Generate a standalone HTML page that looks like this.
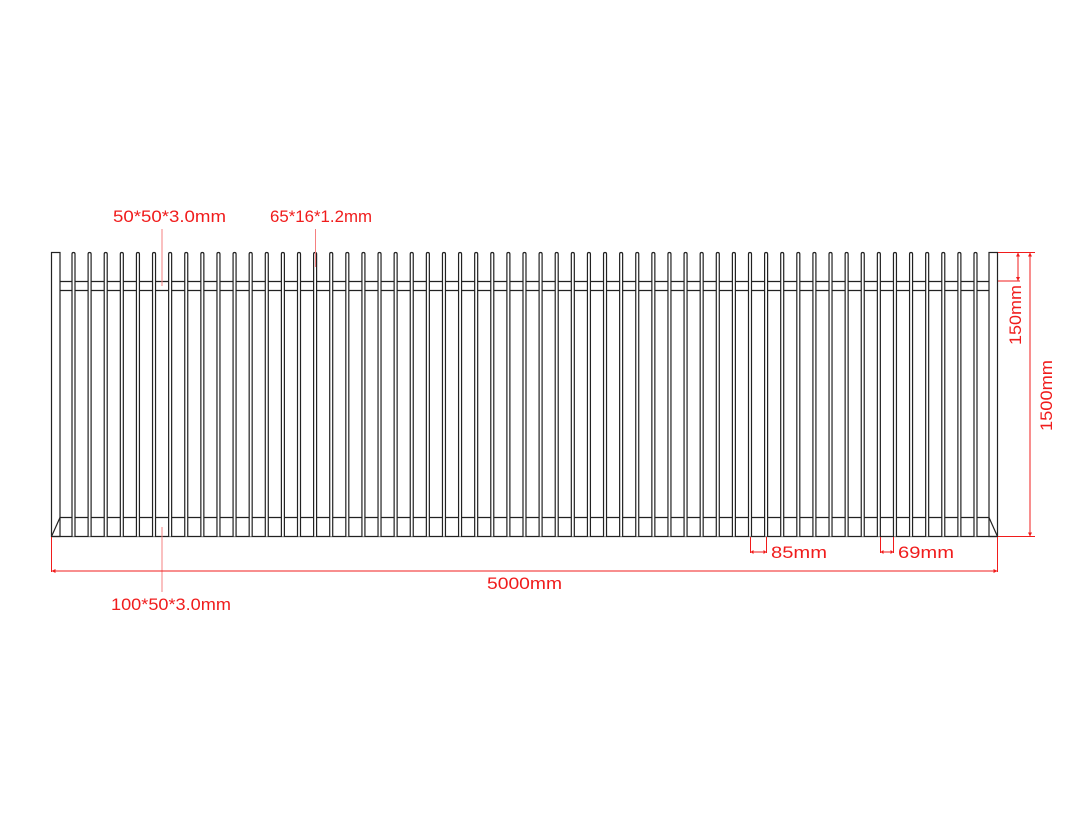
<!DOCTYPE html>
<html><head><meta charset="utf-8"><style>
html,body{margin:0;padding:0;background:#fff;}
svg{display:block;}
text{font-family:"Liberation Sans",sans-serif;font-size:17px;fill:#f01c1c;}
</style></head><body>
<svg id="s" width="1080" height="831" viewBox="0 0 1080 831" xmlns="http://www.w3.org/2000/svg">
<g id="fence" fill="none" stroke="#222" stroke-width="1.2">
<rect x="51.5" y="252.5" width="8.5" height="284" />
<rect x="989" y="252.5" width="8.5" height="284" />
<line x1="60" y1="281.5" x2="989" y2="281.5"/>
<line x1="60" y1="290.5" x2="989" y2="290.5"/>
<line x1="60" y1="517.5" x2="989" y2="517.5"/>
<line x1="51.5" y1="536.5" x2="997.5" y2="536.5"/>
<line x1="60" y1="517.5" x2="51.5" y2="536.5"/>
<line x1="989" y1="517.5" x2="997.5" y2="536.5"/>
</g>
<g fill="none" stroke="#f01c1c" stroke-width="1">
<line x1="162" y1="229" x2="162" y2="286" stroke="#f58080"/>
<line x1="315.5" y1="229" x2="315.5" y2="267" stroke="#f58080"/>
<line x1="162" y1="527" x2="162" y2="592" stroke="#f58080"/>
<line x1="51.5" y1="537" x2="51.5" y2="572"/>
<line x1="997.5" y1="537" x2="997.5" y2="572"/>
<line x1="51.5" y1="571" x2="997.5" y2="571"/>
<line x1="998" y1="252.5" x2="1035" y2="252.5"/>
<line x1="998" y1="536.5" x2="1035" y2="536.5"/>
<line x1="1030" y1="252.5" x2="1030" y2="536.5"/>
<line x1="998" y1="281" x2="1020" y2="281"/>
<line x1="1018" y1="252.5" x2="1018" y2="281"/>
<line x1="750.5" y1="537" x2="750.5" y2="553"/>
<line x1="766.5" y1="537" x2="766.5" y2="553"/>
<line x1="750.5" y1="552" x2="766.5" y2="552"/>
<line x1="880.5" y1="537" x2="880.5" y2="553"/>
<line x1="893.5" y1="537" x2="893.5" y2="553"/>
<line x1="880.5" y1="552" x2="893.5" y2="552"/>
</g>
<g fill="#f01c1c">
<path d="M51.5 571 l4 -2 v4z"/><path d="M997.5 571 l-4 -2 v4z"/>
<path d="M1030 252.5 l-2 4 h4z"/><path d="M1030 536.5 l-2 -4 h4z"/>
<path d="M1018 252.5 l-2 4 h4z"/><path d="M1018 281 l-2 -4 h4z"/>
<path d="M750.5 552 l3 -2 v4z"/><path d="M766.5 552 l-3 -2 v4z"/>
<path d="M880.5 552 l3 -2 v4z"/><path d="M893.5 552 l-3 -2 v4z"/>
</g>
<text x="113" y="222" textLength="113" lengthAdjust="spacingAndGlyphs">50*50*3.0mm</text>
<text x="270" y="222" textLength="102" lengthAdjust="spacingAndGlyphs">65*16*1.2mm</text>
<text x="111" y="610" textLength="120" lengthAdjust="spacingAndGlyphs">100*50*3.0mm</text>
<text x="487" y="589" textLength="75" lengthAdjust="spacingAndGlyphs">5000mm</text>
<text x="771" y="558" textLength="56" lengthAdjust="spacingAndGlyphs">85mm</text>
<text x="898" y="558" textLength="56" lengthAdjust="spacingAndGlyphs">69mm</text>
<text transform="translate(1021,345) rotate(-90)" textLength="60" lengthAdjust="spacingAndGlyphs">150mm</text>
<text transform="translate(1052,431) rotate(-90)" textLength="71" lengthAdjust="spacingAndGlyphs">1500mm</text>
</svg>
<script>
var g=document.getElementById('fence');
for(var i=0;i<57;i++){
 var x=72+i*16.107;
 var p=document.createElementNS('http://www.w3.org/2000/svg','path');
 p.setAttribute('d','M'+x+' 536.5 V254 Q'+x+' 252.5 '+(x+1.5)+' 252.5 Q'+(x+3)+' 252.5 '+(x+3)+' 254 V536.5');
 p.setAttribute('fill','#fff');
 g.appendChild(p);
}
</script>
</body></html>
